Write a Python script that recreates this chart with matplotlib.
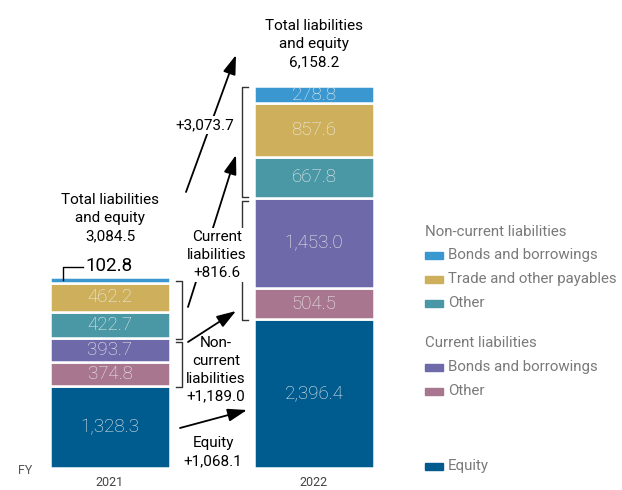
import matplotlib.pyplot as plt
from matplotlib.patches import Rectangle

plt.rcParams['font.family'] = ['Roboto', 'DejaVu Sans']

years = ['2021', '2022']
equity = [1328.3, 2396.4]
cur_other = [374.8, 504.5]
cur_bonds = [393.7, 1453.0]
nc_other = [422.7, 667.8]
nc_trade = [462.2, 857.6]
nc_bonds = [102.8, 278.8]
total_labels = ['3,084.5', '6,158.2']

c_equity = '#005b8f'
c_cur_other = '#a8778f'
c_cur_bonds = '#6e69a8'
c_nc_other = '#4a98a6'
c_nc_trade = '#ceb05c'
c_nc_bonds = '#3b97cf'

series = [
    (equity, c_equity),
    (cur_other, c_cur_other),
    (cur_bonds, c_cur_bonds),
    (nc_other, c_nc_other),
    (nc_trade, c_nc_trade),
    (nc_bonds, c_nc_bonds),
]

fig = plt.figure(figsize=(6.22, 4.9), dpi=100)
ax = fig.add_axes([0, 22 / 490, 1, 468 / 490])
ax.set_xlim(-110 / 204, 512 / 204)
ax.set_ylim(0, 468 / 0.062)
for s in ax.spines.values():
    s.set_visible(False)
ax.set_yticks([])
ax.set_xticks([0, 1], years)
ax.tick_params(axis='x', length=0, pad=6, labelsize=9, labelcolor='#444444')

x = [0, 1]
bottoms = [0, 0]
for vals, col in series:
    ax.bar(x, vals, bottom=bottoms, width=0.588, color=col,
           edgecolor='white', linewidth=1.8, zorder=2)
    for i, v in enumerate(vals):
        if not (i == 0 and vals is nc_bonds):
            ax.text(x[i], bottoms[i] + v / 2, f'{v:,.1f}', ha='center', va='center',
                    fontsize=13.5, color='#eeeeee', fontweight='light', zorder=3)
    bottoms = [b + v for b, v in zip(bottoms, vals)]

# overlay in pixel coordinates (y down) for notes
ov = fig.add_axes([0, 0, 1, 1], zorder=5)
ov.set_xlim(0, 622)
ov.set_ylim(490, 0)
ov.axis('off')
ov.patch.set_visible(False)

txt = dict(ha='center', va='center', fontsize=11, color='black', linespacing=1.35)
wbox = dict(fc='white', ec='none', pad=1.5)

ov.text(110, 218, 'Total liabilities\nand equity\n' + total_labels[0], **txt)
ov.text(314, 44, 'Total liabilities\nand equity\n' + total_labels[1], **txt)

# 102.8 callout
ov.plot([63, 63, 83], [280, 267, 267], color='black', lw=1)
ov.text(85, 266, '102.8', ha='left', va='center', fontsize=13.5, color='black')

# brackets
bc = dict(color='#333333', lw=1)
ov.plot([176, 182, 182, 176], [281, 281, 339, 339], **bc)
ov.plot([176, 182, 182, 176], [342, 342, 387, 387], **bc)
ov.plot([248, 242, 242, 248], [87, 87, 197, 197], **bc)
ov.plot([248, 242, 242, 248], [201, 201, 320, 320], **bc)

ap = dict(arrowstyle='-|>,head_length=0.9,head_width=0.3', color='black', lw=1.3,
          mutation_scale=13, shrinkA=0, shrinkB=0)
ov.annotate('', xy=(236, 55), xytext=(186, 192), arrowprops=ap)
ov.annotate('', xy=(236, 155), xytext=(188, 307), arrowprops=ap)
ov.annotate('', xy=(236, 311), xytext=(188, 342), arrowprops=ap)
ov.annotate('', xy=(247, 410), xytext=(180, 428), arrowprops=ap)

ov.text(205, 125, '+3,073.7', bbox=wbox, **txt)
ov.text(217, 255, 'Current\nliabilities\n+816.6', bbox=wbox, **txt)
ov.text(216, 370, 'Non-\ncurrent\nliabilities\n+1,189.0', **txt)
ov.text(213, 452, 'Equity\n+1,068.1', **txt)

ov.text(18, 470, 'FY', ha='left', va='center', fontsize=9, color='#555555')

# legend
leg_txt = dict(ha='left', va='center', fontsize=10.8, color='#7a7a7a')
ov.text(425, 232, 'Non-current liabilities', **leg_txt)
ov.text(425, 343, 'Current liabilities', **leg_txt)
items = [
    (255, c_nc_bonds, 'Bonds and borrowings'),
    (279, c_nc_trade, 'Trade and other payables'),
    (303, c_nc_other, 'Other'),
    (367, c_cur_bonds, 'Bonds and borrowings'),
    (391, c_cur_other, 'Other'),
    (466, c_equity, 'Equity'),
]
for y, col, lab in items:
    ov.add_patch(Rectangle((425, y - 3.5), 18, 7, color=col))
    ov.text(448, y, lab, **leg_txt)

fig.savefig('out.png', dpi=100)
